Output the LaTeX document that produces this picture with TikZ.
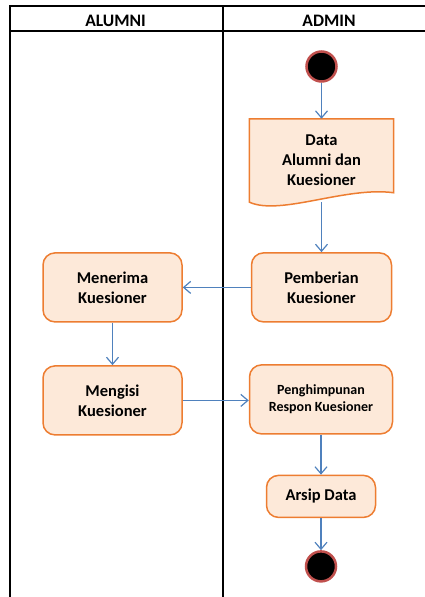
\documentclass[tikz,border=0pt]{standalone}
\usepackage{fontspec}
\setmainfont{Carlito}
\usetikzlibrary{positioning, arrows.meta, calc, backgrounds}
\definecolor{boxfill}{RGB}{253,233,217}
\definecolor{boxline}{RGB}{237,125,49}
\definecolor{flowblue}{RGB}{79,129,189}
\definecolor{dotred}{RGB}{192,80,77}

\begin{document}
\begin{tikzpicture}[x=1pt, y=-1pt, font=\fontsize{16.5}{20}\selectfont\bfseries,
  act/.style={draw=boxline, line width=1.5pt, fill=boxfill, rounded corners=12pt, align=center, minimum width=139pt, minimum height=69pt, inner sep=0pt},
  docbox/.style={align=center, minimum width=144pt, minimum height=83pt, inner sep=0pt},
  dot/.style={circle, fill=black, draw=dotred, line width=2.5pt, minimum size=30pt, inner sep=0pt},
  flow/.style={-{Straight Barb[length=7pt,width=12pt]}, draw=flowblue, line width=1.2pt},
  lane/.style={line width=2pt}]
  \useasboundingbox (0,0) rectangle (425,597);
  % swimlanes
  \begin{scope}
    \clip (0,0) rectangle (425,597);
    \draw[lane] (9.5,600) |- (440,6);
    \draw[lane] (9.5,31) -- (440,31);
    \draw[lane] (222.5,6) -- (222.5,600);
  \end{scope}
  \node[anchor=base, font=\fontsize{17.5}{20}\selectfont\bfseries] (alumni) at (115.5,26.5) {ALUMNI};
  \node[anchor=base, font=\fontsize{17.5}{20}\selectfont\bfseries] (admin) at (329,26.5) {ADMIN};

  % admin lane
  \node[dot] (start) at (321.5,66.5) {};
  \node[docbox, below=36pt of start] (data) {Data\\Alumni dan\\Kuesioner};
  \begin{scope}[on background layer]
    \draw[boxline, line width=1.5pt, fill=boxfill] (data.north west) -- (data.north east) -- ($(data.north east)+(0,74)$)
      .. controls ($(data.south east)+(-48,-16)$) and ($(data.south west)+(31,14)$) .. (data.south west) -- cycle;
  \end{scope}
  \node[act, below=50pt of data, minimum width=140pt] (pem) {Pemberian\\Kuesioner};

  % alumni lane
  \node[act, left=68pt of pem] (men) {Menerima\\Kuesioner};
  \node[act, below=42.5pt of men] (isi) {Mengisi\\Kuesioner};

  \node[act, right=66pt of isi, yshift=1pt, minimum width=143pt, font=\fontsize{14}{17.5}\selectfont\bfseries] (peng) {Penghimpunan\\Respon Kuesioner};
  \node[act, below=40pt of peng, minimum width=109pt, minimum height=42pt] (arsip) {Arsip Data};
  \node[dot, below=32pt of arsip] (finish) {};

  \draw[flow] (start) -- (data);
  \draw[flow] (data) -- (pem);
  \draw[flow] (pem) -- (men);
  \draw[flow] (men) -- (isi);
  \draw[flow] (isi.east) -- (isi.east -| peng.west);
  \draw[flow] (peng) -- (arsip);
  \draw[flow] (arsip) -- (finish);
\end{tikzpicture}
\end{document}
